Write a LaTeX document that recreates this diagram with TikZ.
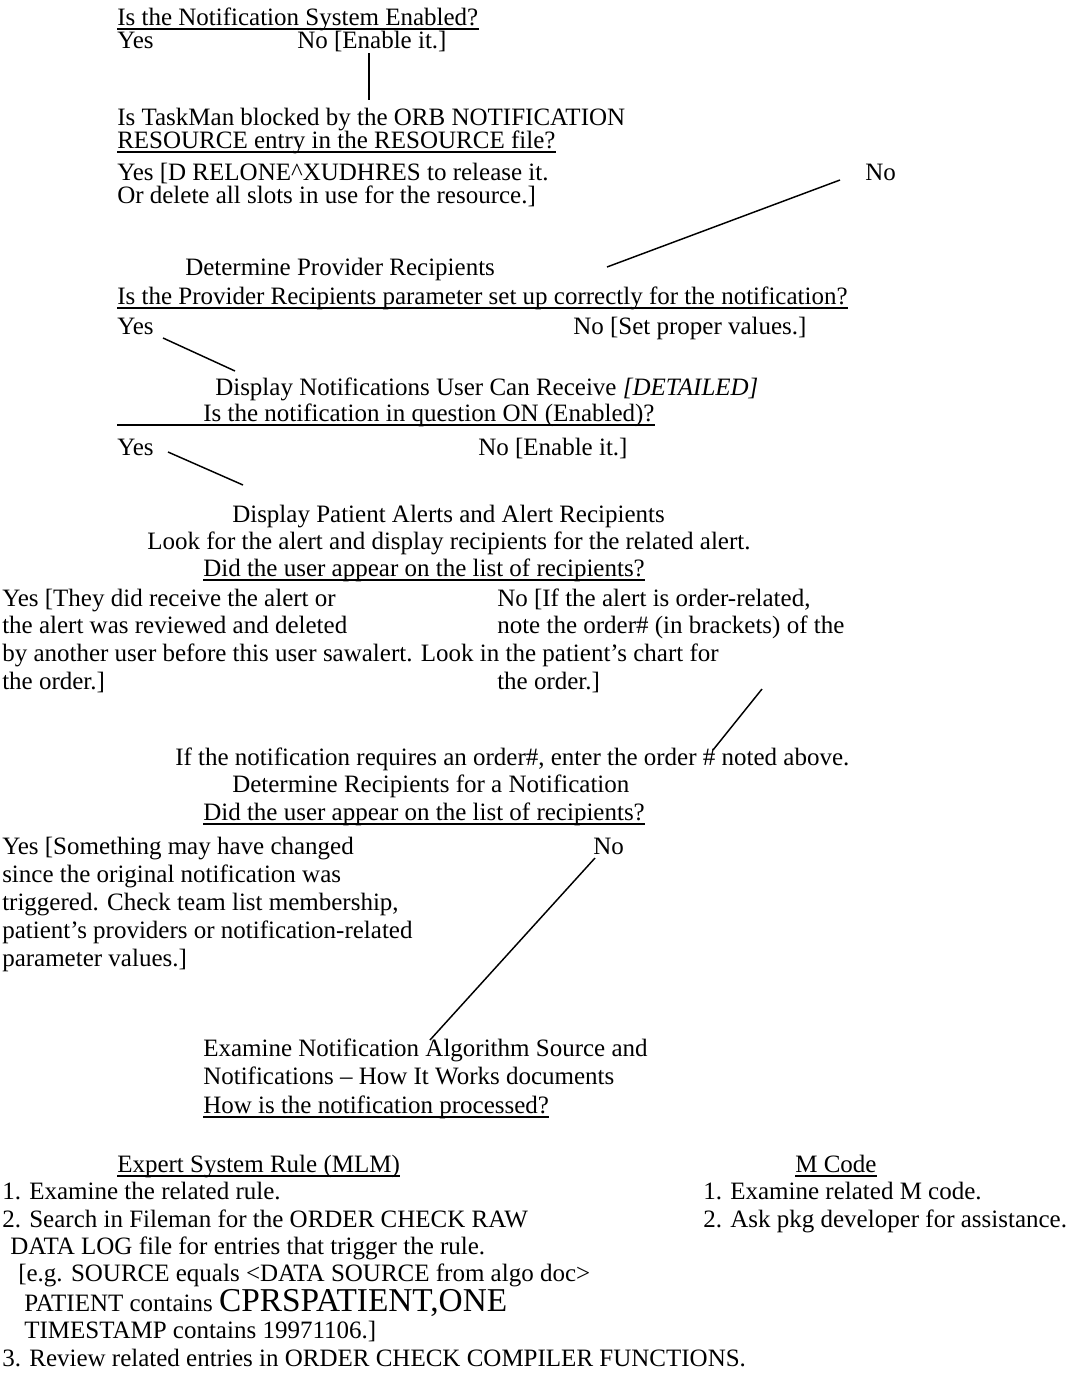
\documentclass[tikz,border=0pt]{standalone}
\usepackage{fontspec}
\setmainfont{Liberation Serif}
\begin{document}
\begin{tikzpicture}[x=0.75pt,y=-0.75pt,
  txt/.style={anchor=base west,inner sep=0pt,font=\fontsize{18.75}{22}\selectfont},
  ulline/.style={line width=0.9pt},
  conn/.style={line width=1.1pt}]
\useasboundingbox (0,0) rectangle (1071,1385);
% --- Q1
\node[txt] (q1) at (117,25) {Is the Notification System Enabled?};
\draw[ulline] ([yshift=-3pt]q1.base west) -- ([yshift=-3pt]q1.base east);
\node[txt] (q1y) at (117,48) {Yes};
\node[txt] (q1n) at (297,48) {No [Enable it.]};
% --- Q2
\node[txt] (q2a) at (117,125) {Is TaskMan blocked by the ORB NOTIFICATION};
\node[txt] (q2b) at (117,148) {RESOURCE entry in the RESOURCE file?};
\draw[ulline] ([yshift=-3pt]q2b.base west) -- ([yshift=-3pt]q2b.base east);
\node[txt] (q2y) at (117,180) {Yes [D RELONE\textasciicircum XUDHRES to release it.};
\node[txt] (q2y2) at (117,203) {Or delete all slots in use for the resource.]};
\node[txt] (q2n) at (865,180) {No};
\coordinate (c1a) at (369,53);
\coordinate (c1b) at (369,100);
\draw[conn] (c1a) -- (c1b);
% --- Q3
\node[txt] (q3t) at (185,275) {Determine Provider Recipients};
\node[txt] (q3) at (117,304) {Is the Provider Recipients parameter set up correctly for the notification?};
\draw[ulline] ([yshift=-3pt]q3.base west) -- ([yshift=-3pt]q3.base east);
\node[txt] (q3y) at (117,334) {Yes};
\node[txt] (q3n) at (573,334) {No [Set proper values.]};
\coordinate (c2a) at (840,180);
\coordinate (c2b) at (607,267);
\draw[conn] (c2a) -- (c2b);
% --- Q4
\node[txt] (q4t) at (215,395) {Display Notifications User Can Receive \textit{[DETAILED]}};
\node[txt] (q4) at (203,421) {Is the notification in question ON (Enabled)?};
\draw[ulline] ([yshift=-3pt]q4.base west -| q3.base west) -- ([yshift=-3pt]q4.base east);
\node[txt] (q4y) at (117,455) {Yes};
\node[txt] (q4n) at (478,455) {No [Enable it.]};
\coordinate (c3a) at (163,338);
\coordinate (c3b) at (235,371);
\draw[conn] (c3a) -- (c3b);
% --- Q5
\node[txt] (q5t) at (232,522) {Display Patient Alerts and Alert Recipients};
\node[txt] (q5d) at (147,549) {Look for the alert and display recipients for the related alert.};
\node[txt] (q5) at (203,576) {Did the user appear on the list of recipients?};
\draw[ulline] ([yshift=-3pt]q5.base west) -- ([yshift=-3pt]q5.base east);
\coordinate (c4a) at (168,452);
\coordinate (c4b) at (243,485);
\draw[conn] (c4a) -- (c4b);
\node[txt] (q5y1) at (2,606) {Yes [They did receive the alert or};
\node[txt] (q5y2) at (2,633) {the alert was reviewed and deleted};
\node[txt] (q5y3) at (2,661) {by another user before this user sawalert. Look in the patient’s chart for};
\node[txt] (q5y4) at (2,689) {the order.]};
\node[txt] (q5n1) at (497,606) {No [If the alert is order-related,};
\node[txt] (q5n2) at (497,633) {note the order\# (in brackets) of the};
\node[txt] (q5n4) at (497,689) {the order.]};
% --- Q6
\node[txt] (q6a) at (175,765) {If the notification requires an order\#, enter the order \# noted above.};
\node[txt] (q6t) at (232,792) {Determine Recipients for a Notification};
\node[txt] (q6) at (203,820) {Did the user appear on the list of recipients?};
\draw[ulline] ([yshift=-3pt]q6.base west) -- ([yshift=-3pt]q6.base east);
\coordinate (c5a) at (762,689);
\coordinate (c5b) at (713,750);
\draw[conn] (c5a) -- (c5b);
\node[txt] (q6y1) at (2,854) {Yes [Something may have changed};
\node[txt] (q6y2) at (2,882) {since the original notification was};
\node[txt] (q6y3) at (2,910) {triggered. Check team list membership,};
\node[txt] (q6y4) at (2,938) {patient’s providers or notification-related};
\node[txt] (q6y5) at (2,966) {parameter values.]};
\node[txt] (q6n) at (593,854) {No};
% --- Q7
\node[txt] (q7a) at (203,1056) {Examine Notification Algorithm Source and};
\node[txt] (q7b) at (203,1084) {Notifications -- How It Works documents};
\node[txt] (q7) at (203,1113) {How is the notification processed?};
\draw[ulline] ([yshift=-3pt]q7.base west) -- ([yshift=-3pt]q7.base east);
\coordinate (c6a) at (595,858);
\coordinate (c6b) at (430,1040);
\draw[conn] (c6a) -- (c6b);
% --- bottom
\node[txt] (es) at (117,1172) {Expert System Rule (MLM)};
\draw[ulline] ([yshift=-3pt]es.base west) -- ([yshift=-3pt]es.base east);
\node[txt] (mc) at (795,1172) {M Code};
\draw[ulline] ([yshift=-3pt]mc.base west) -- ([yshift=-3pt]mc.base east);
\node[txt] (es1) at (2,1199) {1. Examine the related rule.};
\node[txt] (es2) at (2,1227) {2. Search in Fileman for the ORDER CHECK RAW};
\node[txt] (es3) at (10,1254) {DATA LOG file for entries that trigger the rule.};
\node[txt] (es4) at (18,1281) {[e.g. SOURCE equals <DATA SOURCE from algo doc>};
\node[txt] (es5) at (24,1311) {PATIENT contains \raisebox{0pt}[17pt][0pt]{\fontsize{25}{27}\selectfont CPRSPATIENT,ONE}};
\node[txt] (es6) at (24,1338) {TIMESTAMP contains 19971106.]};
\node[txt] (es7) at (2,1366) {3. Review related entries in ORDER CHECK COMPILER FUNCTIONS.};
\node[txt] (mc1) at (703,1199) {1. Examine related M code.};
\node[txt] (mc2) at (703,1227) {2. Ask pkg developer for assistance.};
\end{tikzpicture}
\end{document}
